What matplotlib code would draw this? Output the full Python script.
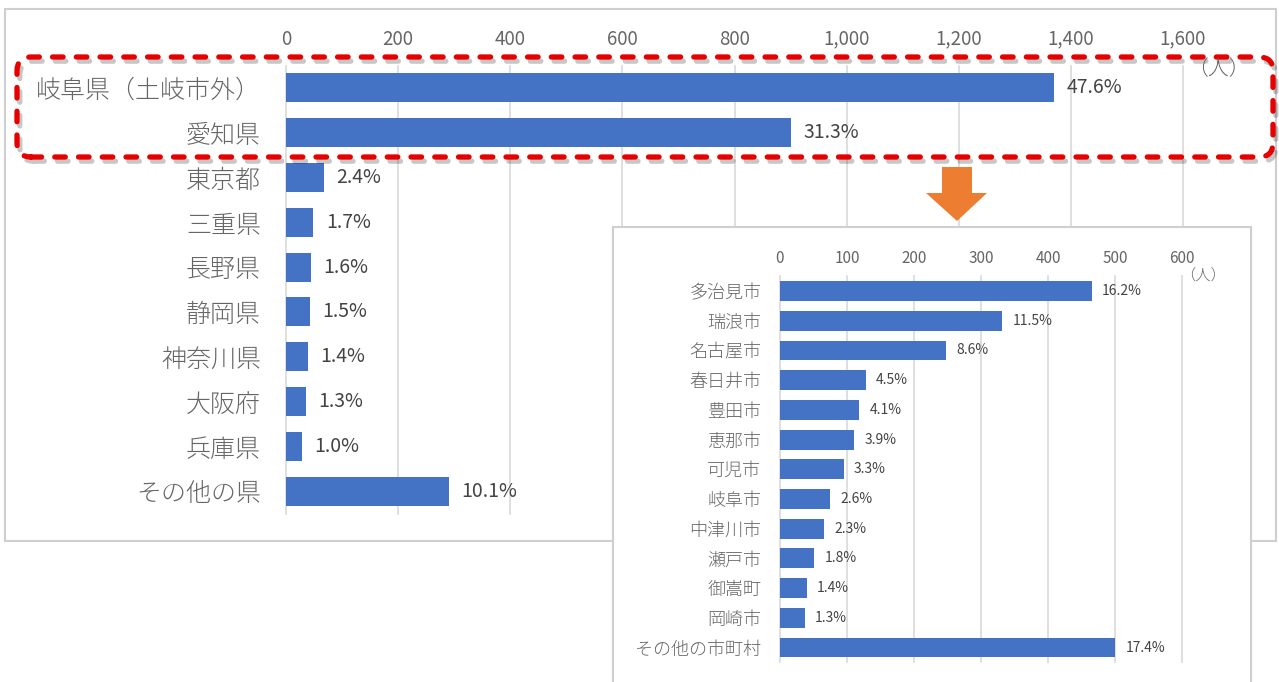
import numpy as np
import matplotlib
matplotlib.use('Agg')
import matplotlib.pyplot as plt
from matplotlib.patches import Rectangle, FancyBboxPatch, Polygon
from matplotlib.transforms import IdentityTransform
import matplotlib.patheffects as pe

plt.rcParams['font.family'] = ['Noto Sans CJK JP', 'DejaVu Sans']

# main chart: prefectures
pref_names = ['岐阜県（土岐市外）', '愛知県', '東京都', '三重県', '長野県',
              '静岡県', '神奈川県', '大阪府', '兵庫県', 'その他の県']
pref_counts = [1370, 900, 68, 49, 45, 42, 39, 36, 28, 290]
pref_pct = [47.6, 31.3, 2.4, 1.7, 1.6, 1.5, 1.4, 1.3, 1.0, 10.1]
pref_ticks = [0, 200, 400, 600, 800, 1000, 1200, 1400, 1600]

# inset chart: cities in Gifu / Aichi
city_names = ['多治見市', '瑞浪市', '名古屋市', '春日井市', '豊田市', '恵那市', '可児市',
              '岐阜市', '中津川市', '瀬戸市', '御嵩町', '岡崎市', 'その他の市町村']
city_counts = [465, 332, 248, 128, 118, 111, 95, 75, 65, 51, 40, 37, 500]
city_pct = [16.2, 11.5, 8.6, 4.5, 4.1, 3.9, 3.3, 2.6, 2.3, 1.8, 1.4, 1.3, 17.4]
city_ticks = [0, 100, 200, 300, 400, 500, 600]

W, H = 1279, 682
BLUE = '#4472C4'
GRID = '#d9d9d9'
GREY = '#666666'
DARK = '#444444'

fig = plt.figure(figsize=(W / 100, H / 100), dpi=100)


def frac(x0, y0, x1, y1):
    # image pixel box -> figure fraction rect
    return [x0 / W, 1 - y1 / H, (x1 - x0) / W, (y1 - y0) / H]


def draw_bars(ax, names, counts, pct, ticks, bar_h, name_fs, pct_fs, tick_fs,
              name_pad, tick_pad, gap):
    y = np.arange(len(names))
    ax.barh(y, counts, height=bar_h, color=BLUE, zorder=2)
    ax.set_ylim(len(names) - 0.5, -0.5)
    ax.set_xlim(ticks[0], ticks[-1])
    ax.set_xticks(ticks)
    ax.set_xticklabels([f'{t:,}' for t in ticks])
    ax.xaxis.tick_top()
    ax.set_yticks(y)
    ax.set_yticklabels(names, fontweight='light')
    ax.tick_params(axis='x', length=0, pad=tick_pad, labelsize=tick_fs, labelcolor=GREY)
    ax.tick_params(axis='y', length=0, pad=name_pad, labelsize=name_fs, labelcolor=GREY)
    ax.grid(axis='x', color=GRID, lw=1.2, zorder=0)
    for g in ax.get_xgridlines():
        g.set_clip_on(False)
    for s in ax.spines.values():
        s.set_visible(False)
    ax.set_facecolor('none')
    for i, (c, p) in enumerate(zip(counts, pct)):
        ax.annotate(f'{p:.1f}%', (c, i), xytext=(gap, 0), textcoords='offset points',
                    va='center', ha='left', fontsize=pct_fs, color=DARK)


# outer frame of the main chart
fig.add_artist(Rectangle((5, H - 541), 1271, 532, transform=IdentityTransform(),
                         fc='none', ec='#cfcfcf', lw=1.5, zorder=-1))

ax = fig.add_axes(frac(286, 65.5, 1183, 513.5), zorder=0)
draw_bars(ax, pref_names, pref_counts, pref_pct, pref_ticks, 0.65,
          18, 14, 13.5, 18, 11.5, 9)
fig.text(1218 / W, 1 - 69 / H, '（人）', fontsize=15, color=GREY,
         ha='center', va='center', fontweight='light')

# red dashed highlight
red = FancyBboxPatch((17, H - 157), 1256, 100, boxstyle='round,pad=0,rounding_size=14',
                     transform=IdentityTransform(), fc='none', ec='#E60000', lw=3.8,
                     ls=(0, (2.0, 2.5)), capstyle='round', zorder=2)
red.set_path_effects([pe.SimpleLineShadow(offset=(2, -3), shadow_color='k', alpha=0.22),
                      pe.Normal()])
fig.add_artist(red)

# orange arrow
arrow_pts = [(942, 167), (972, 167), (972, 193), (987, 193), (957, 221),
             (926, 193), (942, 193)]
fig.add_artist(Polygon([(x, H - y) for x, y in arrow_pts], closed=True,
                       transform=IdentityTransform(), fc='#ED7D31', ec='none', zorder=2))

# inset frame
fig.add_artist(Rectangle((613, -5), 638, H - 227 + 5, transform=IdentityTransform(),
                         fc='white', ec='#cfcfcf', lw=1.5, zorder=2.5))

ax2 = fig.add_axes(frac(780, 276.2, 1182, 662.4), zorder=3)
draw_bars(ax2, city_names, city_counts, city_pct, city_ticks, 0.67,
          13, 10, 11, 13.5, 6.5, 7.5)
fig.text(1203 / W, 1 - 275 / H, '（人）', fontsize=11, color=GREY,
         ha='center', va='center', zorder=4, fontweight='light')

fig.savefig('out.png', dpi=100)
